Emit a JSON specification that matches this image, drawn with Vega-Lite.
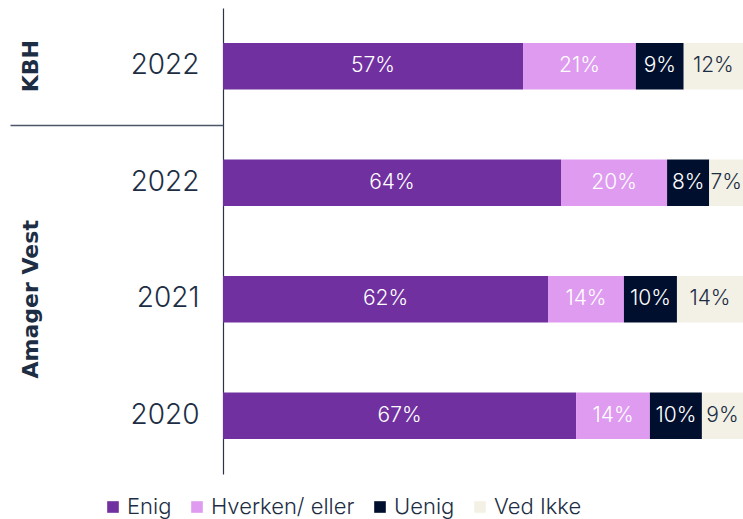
{
  "$schema": "https://vega.github.io/schema/vega-lite/v6.json",
  "autosize": "none",
  "width": 520,
  "height": 466,
  "padding": {"left": 223, "top": 8, "right": 0, "bottom": 45},
  "background": "white",
  "config": {
    "view": {"stroke": null},
    "font": "Inter",
    "text": {"font": "Inter"}
  },
  "data": {
    "values": [
      {"key": "KBH|2022", "cat": "Enig", "o": 1, "v": 57.7, "label": "57%"},
      {"key": "KBH|2022", "cat": "Hverken/ eller", "o": 2, "v": 21.7, "label": "21%"},
      {"key": "KBH|2022", "cat": "Uenig", "o": 3, "v": 9.2, "label": "9%"},
      {"key": "KBH|2022", "cat": "Ved Ikke", "o": 4, "v": 11.4, "label": "12%"},
      {"key": "AV|2022", "cat": "Enig", "o": 1, "v": 65.0, "label": "64%"},
      {"key": "AV|2022", "cat": "Hverken/ eller", "o": 2, "v": 20.4, "label": "20%"},
      {"key": "AV|2022", "cat": "Uenig", "o": 3, "v": 8.1, "label": "8%"},
      {"key": "AV|2022", "cat": "Ved Ikke", "o": 4, "v": 6.5, "label": "7%"},
      {"key": "AV|2021", "cat": "Enig", "o": 1, "v": 62.5, "label": "62%"},
      {"key": "AV|2021", "cat": "Hverken/ eller", "o": 2, "v": 14.6, "label": "14%"},
      {"key": "AV|2021", "cat": "Uenig", "o": 3, "v": 10.2, "label": "10%"},
      {"key": "AV|2021", "cat": "Ved Ikke", "o": 4, "v": 12.7, "label": "14%"},
      {"key": "AV|2020", "cat": "Enig", "o": 1, "v": 67.9, "label": "67%"},
      {"key": "AV|2020", "cat": "Hverken/ eller", "o": 2, "v": 14.2, "label": "14%"},
      {"key": "AV|2020", "cat": "Uenig", "o": 3, "v": 10.0, "label": "10%"},
      {"key": "AV|2020", "cat": "Ved Ikke", "o": 4, "v": 7.9, "label": "9%"}
    ]
  },
  "resolve": {"axis": {"y": "independent"}},
  "layer": [
    {
      "mark": {"type": "bar"},
      "encoding": {
        "y": {
          "field": "key",
          "type": "nominal",
          "scale": {"domain": ["KBH|2022", "AV|2022", "AV|2021", "AV|2020"], "paddingInner": 0.6, "paddingOuter": 0.3},
          "axis": {
            "orient": "left",
            "title": null,
            "ticks": false,
            "tickSize": 0,
            "labelPadding": 24,
            "labelFontSize": 28,
            "labelFontWeight": 300,
            "labelColor": "#1d2e44",
            "labelFont": "Inter",
            "labelExpr": "split(datum.value, '|')[1]",
            "domainColor": "#2a3445",
            "domainWidth": 1.2
          }
        },
        "x": {
          "field": "v",
          "type": "quantitative",
          "stack": "normalize",
          "axis": null
        },
        "order": {"field": "o", "type": "ordinal"},
        "color": {
          "field": "cat",
          "type": "nominal",
          "scale": {
            "domain": ["Enig", "Hverken/ eller", "Uenig", "Ved Ikke"],
            "range": ["#7030a0", "#de9bf0", "#000f2d", "#f3f1e6"]
          },
          "legend": {
            "title": null,
            "orient": "none",
            "direction": "horizontal",
            "legendX": -121,
            "legendY": 488,
            "symbolType": "square",
            "symbolSize": 135,
            "symbolStrokeWidth": 0,
            "symbolOpacity": 1,
            "labelFontSize": 22,
            "labelFontWeight": 300,
            "labelFont": "Inter",
            "labelColor": "#1d2e44",
            "labelOffset": 3,
            "columnPadding": 14
          }
        }
      }
    },
    {
      "mark": {"type": "text", "fontSize": 21, "fontWeight": 300, "font": "Inter"},
      "encoding": {
        "y": {"field": "key", "type": "nominal", "axis": null},
        "x": {"field": "v", "type": "quantitative", "stack": "normalize", "bandPosition": 0.5},
        "order": {"field": "o", "type": "ordinal"},
        "detail": {"field": "cat", "type": "nominal"},
        "text": {"field": "label", "type": "nominal"},
        "color": {
          "condition": {"test": "datum.cat === 'Ved Ikke'", "value": "#1d2e44"},
          "value": "white"
        }
      }
    },
    {
      "mark": {"type": "tick", "opacity": 0},
      "encoding": {
        "y": {
          "field": "key",
          "type": "nominal",
          "axis": {
            "orient": "left",
            "title": null,
            "values": ["KBH|2022", "AV|2021"],
            "labelExpr": "datum.value === 'KBH|2022' ? 'KBH' : 'Amager Vest'",
            "labelAngle": 270,
            "labelAlign": "center",
            "labelBaseline": "alphabetic",
            "labelFontWeight": "bold",
            "labelFontSize": 22,
            "labelFont": "DejaVu Sans",
            "labelColor": "#1d2e44",
            "ticks": false,
            "tickSize": 0,
            "domain": false,
            "labelPadding": 186
          }
        }
      }
    },
    {
      "mark": {"type": "tick", "opacity": 0},
      "encoding": {
        "y": {
          "field": "key",
          "type": "nominal",
          "axis": {
            "orient": "left",
            "title": null,
            "values": ["AV|2022"],
            "labels": false,
            "domain": false,
            "ticks": true,
            "tickSize": 213,
            "tickOffset": -58,
            "tickColor": "#4a5566",
            "tickWidth": 1.5
          }
        }
      }
    }
  ]
}
